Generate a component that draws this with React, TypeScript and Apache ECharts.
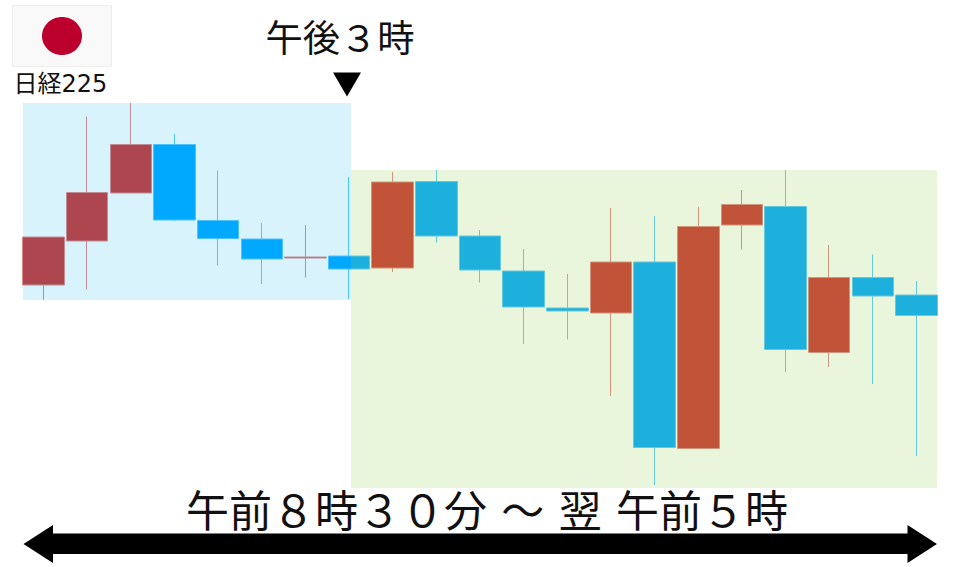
import React, { useEffect, useRef } from "react";
import * as echarts from "echarts";

const categories = ["1","2","3","4","5","6","7","8","9","10","11","12","13","14","15","16","17","18","19","20","21"];
const opens  = [282, 326, 374, 422.5, 346.5, 328, 309, 311, 299, 385.5, 331, 296, 259, 254, 305, 118.5, 342, 360.5, 214.5, 289.5, 272];
const closes = [330, 374.5, 422.5, 347, 328.5, 308, 310, 298, 385, 331, 297, 260, 256, 305, 119.5, 340.5, 362.5, 217.5, 289.5, 271, 251.5];
const lows   = [267, 277.5, 374, 346, 301.5, 283, 289.5, 268, 295, 324.5, 284.5, 223, 227.5, 171, 82, 118.5, 317.5, 195, 200, 183, 111];
const highs  = [330, 450.5, 464, 433, 396.5, 344, 342, 390, 395, 397, 337, 318, 293, 359, 351, 360, 377, 397, 322, 312.5, 286];

const titleAfternoon = "午後３時";
const indexName = "日経225";
const sessionLabel = "午前８時３０分\u2004～\u2004翌\u2004午前５時";

const JP = '"Noto Sans CJK JP", sans-serif';

export default function App() {
  const ref = useRef<HTMLDivElement>(null);
  useEffect(() => {
    const chart = echarts.init(ref.current!, undefined, { renderer: "svg" });
    chart.setOption({
      animation: false,
      backgroundColor: "#ffffff",
      grid: { left: 21.7, top: 0, width: 916.65, height: 567 },
      tooltip: { show: false },
      xAxis: { type: "category", data: categories, show: false },
      yAxis: { type: "value", min: 0, max: 567, show: false, splitLine: { show: false } },
      series: [
        {
          type: "candlestick",
          barWidth: 42,
          silent: true,
          clip: false,
          z: 2,
          itemStyle: {
            color: "#cc3432",
            color0: "#00a8ff",
            borderColor: "#e08886",
            borderColor0: "#5cc6ff",
            borderWidth: 1,
          },
          data: opens.map((o, i) => [o, closes[i], lows[i], highs[i]]),
        },
      ],
      graphic: [
        { type: "rect", z: 20, silent: true, shape: { x: 23, y: 103, width: 328, height: 197 }, style: { fill: "rgba(0,176,240,0.15)" } },
        { type: "rect", z: 20, silent: true, shape: { x: 351, y: 170, width: 586, height: 318 }, style: { fill: "rgba(146,208,80,0.2)" } },
        { type: "rect", z: 21, silent: true, shape: { x: 12.5, y: 5.5, width: 99, height: 61 }, style: { fill: "#f9f9f9", stroke: "#eeeeee", lineWidth: 1 } },
        { type: "ellipse", z: 22, silent: true, shape: { cx: 62, cy: 36, rx: 20, ry: 19 }, style: { fill: "#bc002d" } },
        { type: "text", z: 22, silent: true, style: { x: 13.5, y: 84, text: indexName, fontFamily: '"DejaVu Sans", "Noto Sans CJK JP", sans-serif', fontSize: 24, fill: "#111111", verticalAlign: "middle", align: "left" } },
        { type: "text", z: 22, silent: true, style: { x: 340, y: 35.5, text: titleAfternoon, fontFamily: JP, fontSize: 37.3, fill: "#111111", verticalAlign: "middle", align: "center" } },
        { type: "polygon", z: 22, silent: true, shape: { points: [[333, 72.5], [361, 72.5], [347, 96.5]] }, style: { fill: "#000000" } },
        { type: "text", z: 22, silent: true, style: { x: 487, y: 508, text: sessionLabel, fontFamily: JP, fontSize: 43, fill: "#111111", verticalAlign: "middle", align: "center" } },
        { type: "polygon", z: 22, silent: true, shape: { points: [[23.5, 544], [53, 525], [53, 533.5], [907.5, 533.5], [907.5, 525], [937, 544], [907.5, 563], [907.5, 554], [53, 554], [53, 563]] }, style: { fill: "#000000" } },
      ],
    });
    return () => chart.dispose();
  }, []);
  return <div ref={ref} style={{ position: "absolute", left: 0, top: 0, width: 960, height: 567 }} />;
}
